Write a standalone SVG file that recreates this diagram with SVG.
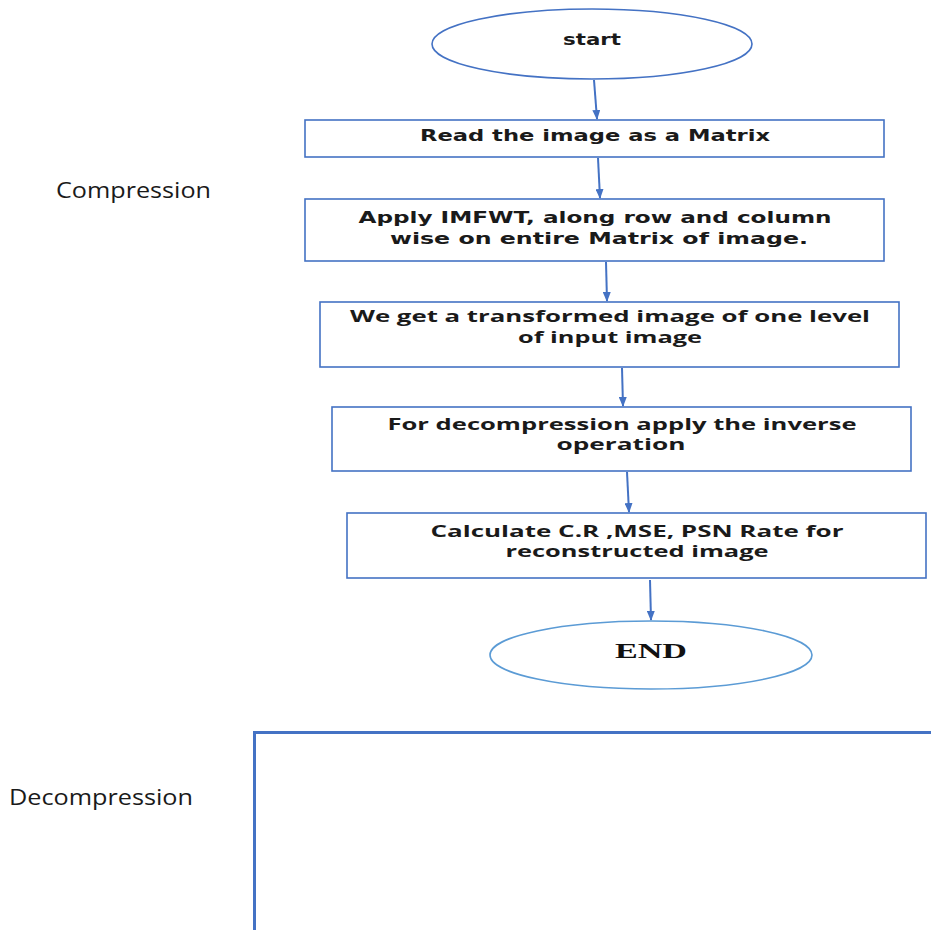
<svg xmlns="http://www.w3.org/2000/svg" width="931" height="930" viewBox="0 0 931 930">
<style>
.box{fill:#fff;stroke:#4472C4;stroke-width:1.6}
.ell{fill:#fff;stroke:#4472C4;stroke-width:1.6}
.ell2{fill:#fff;stroke:#5B9BD5;stroke-width:1.6}
.conn{stroke:#4472C4;stroke-width:2;fill:none}
.t1{font-family:"DejaVu Sans",Verdana,sans-serif;font-weight:bold;font-size:15px;fill:#1a1a1a;text-anchor:middle}
.t2{font-family:"Open Sans","Noto Sans",sans-serif;font-weight:bold;font-size:16px;fill:#1a1a1a;text-anchor:middle}
.side{font-family:"Open Sans","Liberation Sans",sans-serif;font-size:22px;fill:#1a1a1a}
.endt{font-family:"Liberation Serif","Times New Roman",serif;font-weight:bold;font-size:22px;fill:#111;text-anchor:middle}
</style>
<defs>
<marker id="ah" markerWidth="10" markerHeight="8" refX="9" refY="4" orient="auto" markerUnits="userSpaceOnUse">
<path d="M0,0 L10,4 L0,8 Z" fill="#4472C4"/>
</marker>
</defs>
<rect width="931" height="930" fill="#fff"/>

<text class="side" x="56" y="198" textLength="155" lengthAdjust="spacingAndGlyphs">Compression</text>
<text class="side" x="9" y="805" textLength="184" lengthAdjust="spacingAndGlyphs">Decompression</text>

<g id="connectors">
<line class="conn" x1="594" y1="80" x2="597" y2="119" marker-end="url(#ah)"/>
<line class="conn" x1="598" y1="158" x2="600" y2="198" marker-end="url(#ah)"/>
<line class="conn" x1="606" y1="262" x2="607" y2="301" marker-end="url(#ah)"/>
<line class="conn" x1="622" y1="368" x2="623" y2="406" marker-end="url(#ah)"/>
<line class="conn" x1="627" y1="472" x2="629" y2="512" marker-end="url(#ah)"/>
<line class="conn" x1="650" y1="580" x2="651" y2="620" marker-end="url(#ah)"/>
</g>

<g id="start">
<ellipse class="ell" cx="592" cy="44" rx="160" ry="35"/>
<text class="t1" x="592" y="45" textLength="58" lengthAdjust="spacingAndGlyphs">start</text>
</g>

<g id="read">
<rect class="box" x="305" y="120" width="579" height="37"/>
<text class="t1" x="595" y="141" textLength="350" lengthAdjust="spacingAndGlyphs">Read the image as a Matrix</text>
</g>

<g id="apply">
<rect class="box" x="305" y="199" width="579" height="62"/>
<text class="t1" x="595" y="223" textLength="473" lengthAdjust="spacingAndGlyphs">Apply IMFWT, along row and column</text>
<text class="t1" x="599" y="244" textLength="418" lengthAdjust="spacingAndGlyphs">wise on entire Matrix of image.</text>
</g>

<g id="transformed">
<rect class="box" x="320" y="302" width="579" height="65"/>
<text class="t2" x="610" y="322" textLength="520" lengthAdjust="spacingAndGlyphs">We get a transformed image of one level</text>
<text class="t2" x="610" y="343" textLength="184" lengthAdjust="spacingAndGlyphs">of input image</text>
</g>

<g id="decomp">
<rect class="box" x="332" y="407" width="579" height="64"/>
<text class="t2" x="622" y="430" textLength="469" lengthAdjust="spacingAndGlyphs">For decompression apply the inverse</text>
<text class="t2" x="621" y="450" textLength="129" lengthAdjust="spacingAndGlyphs">operation</text>
</g>

<g id="calc">
<rect class="box" x="347" y="513" width="579" height="65"/>
<text class="t2" x="637" y="537" textLength="413" lengthAdjust="spacingAndGlyphs">Calculate C.R ,MSE, PSN Rate for</text>
<text class="t2" x="637" y="557" textLength="263" lengthAdjust="spacingAndGlyphs">reconstructed image</text>
</g>

<g id="end">
<ellipse class="ell2" cx="651" cy="655" rx="161" ry="34"/>
<text class="endt" x="651" y="658" textLength="72" lengthAdjust="spacingAndGlyphs">END</text>
</g>

<g id="decompression-frame">
<path d="M254.5,932 V732.5 H933" fill="none" stroke="#4472C4" stroke-width="3"/>
</g>
</svg>
